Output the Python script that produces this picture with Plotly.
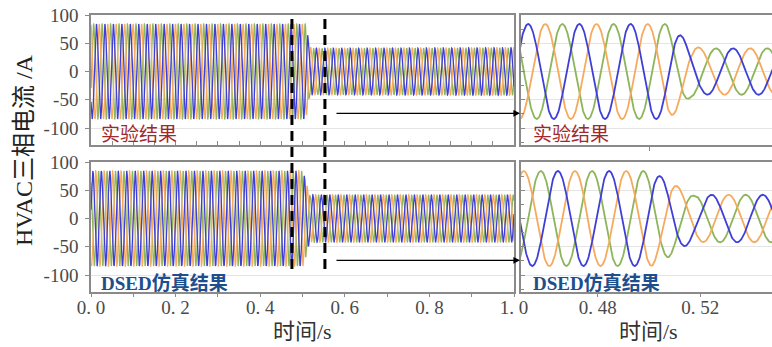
import numpy as np
import plotly.graph_objects as go

# ---------------- data ----------------
grid_freq_hz = 50.0
# each phase lags the blue phase by this fraction of a cycle
phase_lag_cycles = [0.0, 1 / 3, 2 / 3]
phase_keys = ["blue", "orange", "green"]

# experimental record: time of a blue-phase crest, and the current envelope (A)
exp_crest_t = 0.4528
exp_env_t = [0.0, 0.507, 0.5107, 0.514, 0.516, 0.521, 1.0]
exp_env_a = [84, 84, 72, 57, 46, 41, 42]

# DSED simulation: time of a blue-phase crest, and the current envelope (A)
sim_crest_t = 0.4644
sim_env_t = [0.0, 0.501, 0.5042, 0.5074, 0.511, 0.514, 0.5177, 0.522, 1.0]
sim_env_a = [84, 84, 75, 69, 57, 49, 40, 42, 42]

# vertical markers bounding the zoomed window (s)
marker_times = [0.475, 0.553]
arrow_level = -74

main_ticks = [0.0, 0.2, 0.4, 0.6, 0.8, 1.0]
main_tick_text = ["0. 0", "0. 2", "0. 4", "0. 6", "0. 8", "1. 0"]
zoom_ticks = [0.48, 0.52]
zoom_tick_text = ["0. 48", "0. 52"]
y_ticks = [-100, -50, 0, 50, 100]
y_tick_text = ["-100", "-50", "0", "50", "100"]

# ---------------- styling ----------------
W, H = 772, 347
COLORS = {"blue": "#3f3fd8", "orange": "#f6aa5e", "green": "#8db55a"}
DRAW_ORDER = ["green", "orange", "blue"]
FRAME = "#8a8a8a"
GRID = "#e4e4e4"
TICKFONT = dict(family="Liberation Serif, DejaVu Serif, serif", size=19, color="#4a4a4a")
CJK = "Liberation Serif, Noto Sans CJK SC, serif"


def px_x(p):
    return p / W


def px_y(p):
    return (H - p) / H


t = np.arange(0.0, 1.0 + 1e-9, 0.0002)


def phase_currents(crest_t, env_t, env_a):
    amp = np.interp(t, env_t, env_a)
    out = {}
    for key, lag in zip(phase_keys, phase_lag_cycles):
        out[key] = amp * np.cos(2 * np.pi * grid_freq_hz * (t - crest_t) - 2 * np.pi * lag)
    return out


rows = [
    phase_currents(exp_crest_t, exp_env_t, exp_env_a),
    phase_currents(sim_crest_t, sim_env_t, sim_env_a),
]

fig = go.Figure()
axis_pairs = [("x", "y", 1.3), ("x2", "y2", 1.8), ("x3", "y3", 1.3), ("x4", "y4", 1.8)]
for r, waves in enumerate(rows):
    for c in range(2):
        xa, ya, lw = axis_pairs[r * 2 + c]
        for key in DRAW_ORDER:
            fig.add_trace(go.Scatter(
                x=t, y=waves[key], mode="lines",
                line=dict(color=COLORS[key], width=lw),
                xaxis=xa, yaxis=ya, showlegend=False, hoverinfo="skip",
            ))

left_dom = [px_x(91), px_x(514)]
right_dom = [px_x(521), 1.0]
top_dom = [px_y(145), px_y(15)]
bot_dom = [px_y(292), px_y(162)]
y_range = [-130, 100]

common_x = dict(showline=True, linecolor=FRAME, linewidth=1.5, mirror=True,
                showgrid=False, zeroline=False, tickcolor=FRAME, tickfont=TICKFONT,
                automargin=False)

left_y = dict(range=y_range, showline=True, linecolor=FRAME, linewidth=1.5, mirror=True,
              tickvals=y_ticks, ticktext=y_tick_text, ticks="outside", ticklen=4,
              tickcolor=FRAME, tickfont=TICKFONT, showgrid=True, gridcolor=GRID,
              zeroline=False, ticklabelstandoff=3, automargin=False)
right_y = dict(range=y_range, showline=True, linecolor=FRAME, linewidth=1.5, mirror=False,
               tickvals=y_ticks, ticks="inside", ticklen=4, tickcolor=FRAME,
               showticklabels=False, showgrid=True, gridcolor=GRID, zeroline=False,
               automargin=False,
               minor=dict(tickvals=[-125, -75, -25, 25, 75], ticks="inside", ticklen=3,
                          tickcolor=FRAME, showgrid=False))

fig.update_layout(
    width=W, height=H,
    margin=dict(l=0, r=0, t=0, b=0, pad=0, autoexpand=False),
    paper_bgcolor="white", plot_bgcolor="white",
    showlegend=False,
    xaxis=dict(common_x, domain=left_dom, anchor="y", range=[0, 1.0],
               tickvals=list(np.round(np.arange(0, 1.0001, 0.05), 2)),
               ticks="inside", ticklen=4, showticklabels=False),
    yaxis=dict(left_y, domain=top_dom, anchor="x"),
    xaxis2=dict(common_x, domain=right_dom, anchor="y2", range=[0.45, 0.548],
                tickvals=[0.50], ticks="outside", ticklen=4, showticklabels=False),
    yaxis2=dict(right_y, domain=top_dom, anchor="x2"),
    xaxis3=dict(common_x, domain=left_dom, anchor="y3", range=[0, 1.0],
                tickvals=main_ticks, ticktext=main_tick_text, ticks="outside", ticklen=3,
                ticklabelstandoff=-6,
                minor=dict(tickvals=[0.1, 0.3, 0.5, 0.7, 0.9], ticks="outside",
                           ticklen=3, tickcolor=FRAME)),
    yaxis3=dict(left_y, domain=bot_dom, anchor="x3"),
    xaxis4=dict(common_x, domain=right_dom, anchor="y4", range=[0.45, 0.548],
                tickvals=zoom_ticks, ticktext=zoom_tick_text, ticks="outside", ticklen=3,
                ticklabelstandoff=-6),
    yaxis4=dict(right_y, domain=bot_dom, anchor="x4"),
)

# dashed markers spanning both rows
for mt in marker_times:
    fig.add_shape(type="line", xref="x", yref="paper", x0=mt, x1=mt,
                  y0=px_y(19), y1=px_y(274),
                  line=dict(color="black", width=3, dash="10px,6px"))

# arrows leading into the zoomed panels
for ya in ["y", "y3"]:
    fig.add_annotation(xref="paper", yref=ya, x=px_x(520), y=arrow_level,
                       axref="pixel", ayref="pixel", ax=-185, ay=0,
                       showarrow=True, arrowhead=2, arrowsize=1.1, arrowwidth=1.2,
                       arrowcolor="black", standoff=0, text="")

# panel captions
red = "#a3282c"
navy = "#1d4f8e"
for x0 in [99, 531]:
    fig.add_annotation(xref="paper", yref="paper", x=px_x(x0), y=px_y(134),
                       xanchor="left", yanchor="middle", showarrow=False,
                       text="实验结果", font=dict(family=CJK, size=19, color=red))
    fig.add_annotation(xref="paper", yref="paper", x=px_x(x0), y=px_y(283),
                       xanchor="left", yanchor="middle", showarrow=False,
                       text="<b>DSED仿真结果</b>", font=dict(family=CJK, size=19, color=navy))

# axis titles
fig.add_annotation(xref="paper", yref="paper", x=px_x(24), y=px_y(150),
                   xanchor="center", yanchor="middle", textangle=-90, showarrow=False,
                   text="HVAC三相电流 /A", font=dict(family=CJK, size=24, color="#222222"))
for cx in [302, 648]:
    fig.add_annotation(xref="paper", yref="paper", x=px_x(cx), y=px_y(331),
                       xanchor="center", yanchor="middle", showarrow=False,
                       text="时间/s", font=dict(family=CJK, size=22, color="#333333"))

fig.write_html("out.html")
